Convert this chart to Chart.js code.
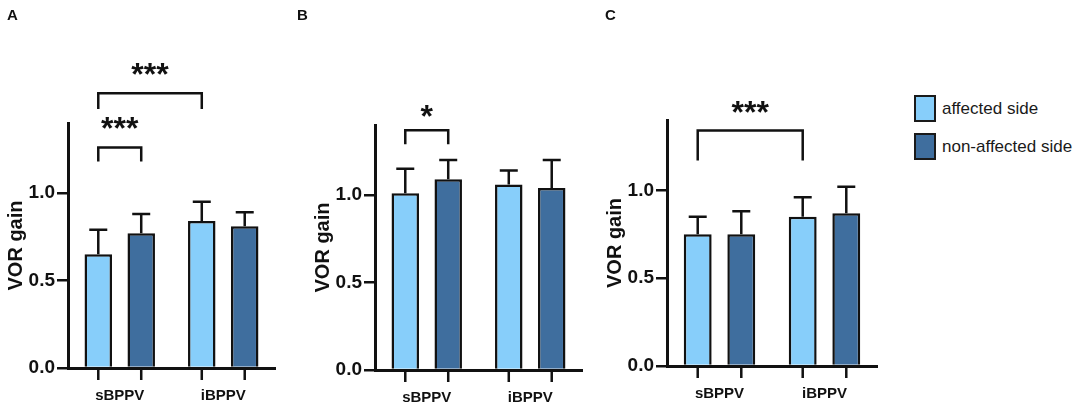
<!DOCTYPE html>
<html>
<head>
<meta charset="utf-8">
<script src="https://cdn.jsdelivr.net/npm/chart.js@4/dist/chart.umd.min.js"></script>
<style>
    body { margin: 0; background: #fff; }
    #wrap { position: relative; width: 1084px; height: 411px; overflow: hidden; }
    .panel { position: absolute; top: 0; height: 411px; }
    #legend { position: absolute; left: 914px; top: 95px; font-family: Arial, "Liberation Sans", sans-serif; font-size: 17px; color: #1a1a1a; }
    .legend-item { display: flex; align-items: center; height: 27px; margin-bottom: 11px; }
    .legend-box { width: 18px; height: 23px; border: 2px solid #1a1a1a; margin-right: 6px; }
</style>
</head>
<body>
<div id="wrap">
    <div class="panel" style="left:0;width:290px"><canvas id="chartA"></canvas></div>
    <div class="panel" style="left:290px;width:300px"><canvas id="chartB"></canvas></div>
    <div class="panel" style="left:590px;width:310px"><canvas id="chartC"></canvas></div>
    <div id="legend"></div>
</div>
<script>
const categories = ['sBPPV', 'iBPPV'];
const seriesNames = ['affected side', 'non-affected side'];
const yTicks = [0, 0.5, 1.0];

// panel A
const affectedA = [0.65, 0.84];
const affectedSdA = [0.14, 0.11];
const nonAffectedA = [0.77, 0.81];
const nonAffectedSdA = [0.11, 0.08];
// panel B
const affectedB = [1.01, 1.06];
const affectedSdB = [0.14, 0.08];
const nonAffectedB = [1.09, 1.04];
const nonAffectedSdB = [0.11, 0.16];
// panel C
const affectedC = [0.75, 0.85];
const affectedSdC = [0.10, 0.11];
const nonAffectedC = [0.75, 0.87];
const nonAffectedSdC = [0.13, 0.15];

// significance brackets: [dataset, category] at both ends, levels in VOR gain units
const bracketsA = [
    { from: [0, 0], to: [1, 0], top: 1.26, bottom: 1.18, text: '***', textAt: 1.39 },
    { from: [0, 0], to: [0, 1], top: 1.57, bottom: 1.48, text: '***', textAt: 1.70 }
];
const bracketsB = [
    { from: [0, 0], to: [1, 0], top: 1.37, bottom: 1.29, text: '*', textAt: 1.47 }
];
const bracketsC = [
    { from: [0, 0], to: [0, 1], top: 1.34, bottom: 1.17, text: '***', textAt: 1.46 }
];

const FONT = 'Arial, "Liberation Sans", sans-serif';
const INK = '#111';
const LIGHT = '#87CEFA';
const DARK = '#3F6E9E';

// error bars, tick marks under each bar, brackets and the panel letter
const panelExtras = {
    id: 'panelExtras',
    afterDatasetsDraw(chart, args, opts) {
        const ctx = chart.ctx;
        const y = chart.scales.y;
        const area = chart.chartArea;
        ctx.save();
        ctx.strokeStyle = INK;
        ctx.fillStyle = INK;
        ctx.lineWidth = 2.5;

        chart.data.datasets.forEach((ds, di) => {
            const meta = chart.getDatasetMeta(di);
            meta.data.forEach((bar, i) => {
                const top = y.getPixelForValue(ds.data[i] + ds.sd[i]);
                ctx.beginPath();
                ctx.moveTo(bar.x, bar.y);
                ctx.lineTo(bar.x, top);
                ctx.moveTo(bar.x - 9, top);
                ctx.lineTo(bar.x + 9, top);
                ctx.moveTo(bar.x, area.bottom);
                ctx.lineTo(bar.x, area.bottom + 12);
                ctx.stroke();
            });
        });

        (opts.brackets || []).forEach(b => {
            const xa = chart.getDatasetMeta(b.from[0]).data[b.from[1]].x;
            const xb = chart.getDatasetMeta(b.to[0]).data[b.to[1]].x;
            const yt = y.getPixelForValue(b.top);
            const yb = y.getPixelForValue(b.bottom);
            ctx.beginPath();
            ctx.moveTo(xa, yb);
            ctx.lineTo(xa, yt);
            ctx.lineTo(xb, yt);
            ctx.lineTo(xb, yb);
            ctx.stroke();
            ctx.font = 'bold 32px ' + FONT;
            ctx.textAlign = 'center';
            ctx.textBaseline = 'alphabetic';
            ctx.fillText(b.text, (xa + xb) / 2, y.getPixelForValue(b.textAt) + 14);
        });

        if (opts.letter) {
            ctx.font = 'bold 15px ' + FONT;
            ctx.textAlign = 'left';
            ctx.textBaseline = 'alphabetic';
            ctx.fillText(opts.letter, opts.letterX, 20);
        }
        ctx.restore();
    }
};

function makePanel(canvasId, affected, affectedSd, nonAffected, nonAffectedSd, brackets, frame) {
    const ctx = document.getElementById(canvasId).getContext('2d');
    return new Chart(ctx, {
        type: 'bar',
        data: {
            labels: categories,
            datasets: [{
                label: seriesNames[0],
                data: affected,
                sd: affectedSd,
                backgroundColor: LIGHT,
                borderColor: INK,
                borderWidth: 2.5,
                categoryPercentage: 0.83,
                barPercentage: 0.64
            }, {
                label: seriesNames[1],
                data: nonAffected,
                sd: nonAffectedSd,
                backgroundColor: DARK,
                borderColor: INK,
                borderWidth: 2.5,
                categoryPercentage: 0.83,
                barPercentage: 0.64
            }]
        },
        options: {
            responsive: true,
            maintainAspectRatio: false,
            animation: false,
            layout: {
                padding: { left: frame.left, right: frame.right, top: frame.top, bottom: 0 }
            },
            plugins: {
                legend: { display: false },
                tooltip: { enabled: false },
                panelExtras: { brackets: brackets, letter: frame.letter, letterX: frame.letterX }
            },
            scales: {
                x: {
                    afterFit: s => { s.height = frame.axisHeight; },
                    grid: { color: 'rgba(0,0,0,0)', drawOnChartArea: false, tickLength: 12 },
                    border: { color: INK, width: 3 },
                    ticks: { color: INK, padding: 7, font: { family: FONT, size: 15, weight: 'bold' } }
                },
                y: {
                    min: 0,
                    max: 1.4,
                    afterFit: s => { s.width = 68; },
                    afterBuildTicks: s => { s.ticks = yTicks.map(v => ({ value: v })); },
                    grid: { drawOnChartArea: false, color: INK, lineWidth: 2.5, tickLength: 11 },
                    border: { color: INK, width: 3 },
                    ticks: {
                        color: INK,
                        padding: 2,
                        font: { family: FONT, size: 19, weight: 'bold' },
                        callback: v => Number(v).toFixed(1)
                    },
                    title: {
                        display: true,
                        text: 'VOR gain',
                        color: INK,
                        font: { family: FONT, size: 20, weight: 'bold' }
                    }
                }
            }
        },
        plugins: [panelExtras]
    });
}

const chartA = makePanel('chartA', affectedA, affectedSdA, nonAffectedA, nonAffectedSdA, bracketsA,
    { left: 0, right: 15, top: 123, axisHeight: 43, letter: 'A', letterX: 7 });
const chartB = makePanel('chartB', affectedB, affectedSdB, nonAffectedB, nonAffectedSdB, bracketsB,
    { left: 17, right: 8, top: 125, axisHeight: 41, letter: 'B', letterX: 7 });
const chartC = makePanel('chartC', affectedC, affectedSdC, nonAffectedC, nonAffectedSdC, bracketsC,
    { left: 9, right: 23, top: 120, axisHeight: 45, letter: 'C', letterX: 15 });

// html legend built from the chart's own legend items
const legendEl = document.getElementById('legend');
Chart.defaults.plugins.legend.labels.generateLabels(chartC).forEach(item => {
    const row = document.createElement('div');
    row.className = 'legend-item';
    row.innerHTML = `<span class="legend-box" style="background:${item.fillStyle}"></span><span>${item.text}</span>`;
    legendEl.appendChild(row);
});
</script>
</body>
</html>
